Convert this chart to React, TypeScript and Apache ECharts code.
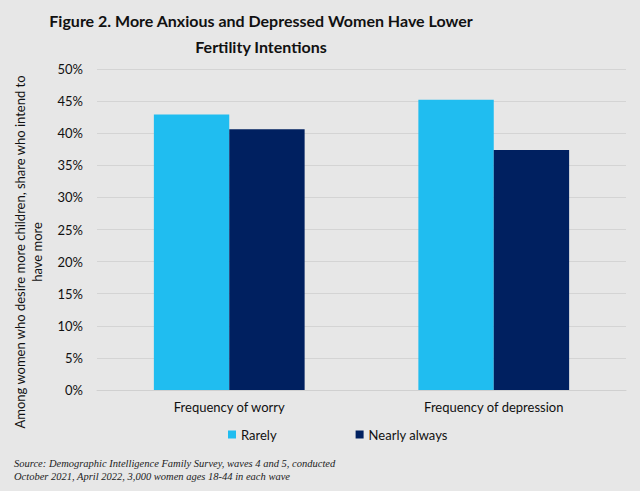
import React, { useEffect, useRef } from "react";
import * as echarts from "echarts";

const categories = ["Frequency of worry", "Frequency of depression"];
const rarely = [42.9, 45.2];
const nearlyAlways = [40.6, 37.4];
const seriesNames = ["Rarely", "Nearly always"];
const titleText = "Figure 2. More Anxious and Depressed Women Have Lower\nFertility Intentions";
const yAxisTitle = "Among women who desire more children, share who intend to\nhave more";
const sourceText =
  "Source: Demographic Intelligence Family Survey, waves 4 and 5, conducted\nOctober 2021, April 2022, 3,000 women ages 18-44 in each wave";

export default function App() {
  const ref = useRef<HTMLDivElement>(null);
  useEffect(() => {
    document.body.style.margin = "0";
    const chart = echarts.init(ref.current!, null, { renderer: "svg" });
    const font = "Lato";
    chart.setOption({
      animation: false,
      backgroundColor: "#e7e7e7",
      textStyle: { fontFamily: font },
      legend: {
        data: seriesNames,
        top: 423,
        left: 223,
        itemWidth: 8,
        itemHeight: 8,
        itemGap: 79,
        icon: "rect",
        textStyle: { fontSize: 13, color: "#111", fontFamily: font },
      },
      grid: { left: 97, right: 14, top: 69, bottom: 101, containLabel: false },
      xAxis: {
        type: "category",
        data: categories,
        axisLine: { lineStyle: { color: "#d0d0d0" } },
        axisTick: { show: false },
        axisLabel: { fontSize: 13, color: "#111", margin: 10, fontFamily: font },
      },
      yAxis: {
        type: "value",
        min: 0,
        max: 50,
        interval: 5,
        axisLine: { show: false },
        axisTick: { show: false },
        axisLabel: { formatter: "{value}%", fontSize: 13, color: "#111", margin: 14, fontFamily: font },
        splitLine: { lineStyle: { color: "#d4d4d4" } },
      },
      series: [
        {
          name: seriesNames[0],
          type: "bar",
          data: rarely,
          barGap: "0%",
          barCategoryGap: "43%",
          itemStyle: { color: "#20bdf0" },
        },
        {
          name: seriesNames[1],
          type: "bar",
          data: nearlyAlways,
          itemStyle: { color: "#002060" },
        },
      ],
      graphic: [
        {
          type: "text",
          x: 261,
          y: 33,
          style: {
            text: titleText,
            fontFamily: font,
            fontWeight: "bold",
            fontSize: 16,
            lineHeight: 26,
            textAlign: "center",
            textVerticalAlign: "middle",
            fill: "#111",
          },
        },
        {
          type: "text",
          x: 28,
          y: 252,
          rotation: Math.PI / 2,
          style: {
            text: yAxisTitle,
            fontFamily: font,
            fontSize: 13,
            lineHeight: 17,
            textAlign: "center",
            textVerticalAlign: "middle",
            fill: "#111",
          },
        },
        {
          type: "text",
          left: 14,
          top: 457,
          style: {
            text: sourceText,
            fontFamily: "Liberation Serif",
            fontStyle: "italic",
            fontSize: 10.5,
            lineHeight: 13,
            fill: "#222",
          },
        },
      ],
    });
    return () => chart.dispose();
  }, []);
  return <div ref={ref} style={{ width: 640, height: 491 }} />;
}
